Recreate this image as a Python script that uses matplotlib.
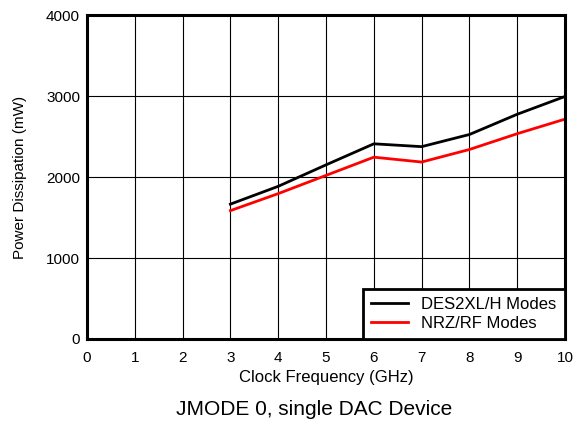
import matplotlib
matplotlib.use('Agg')
import matplotlib.pyplot as plt

plt.rcParams['font.family'] = ['Liberation Sans', 'DejaVu Sans']

# data
freq_ghz = [3, 4, 5, 6, 7, 8, 9, 10]
des2xl_mw = [1665, 1885, 2150, 2410, 2375, 2525, 2775, 2995]
nrz_rf_mw = [1585, 1795, 2020, 2245, 2185, 2340, 2535, 2715]

fig = plt.figure(figsize=(5.76, 4.24), dpi=100)
ax = fig.add_axes([0.151, 0.2005, 0.830, 0.764])

ax.plot(freq_ghz, des2xl_mw, color='black', linewidth=2, label='DES2XL/H Modes')
ax.plot(freq_ghz, nrz_rf_mw, color='#ff0000', linewidth=2, label='NRZ/RF Modes')

ax.set_xlim(0, 10)
ax.set_ylim(0, 4000)
ax.set_xticks(range(0, 11))
ax.set_yticks([0, 1000, 2000, 3000, 4000])
ax.grid(True, color='black', linewidth=0.8)
ax.tick_params(length=0, labelsize=11)
ax.tick_params(axis='x', pad=9)
ax.tick_params(axis='y', pad=5)
for s in ax.spines.values():
    s.set_linewidth(2.2)

ax.set_xlabel('Clock Frequency (GHz)', fontsize=12, labelpad=3)
ax.set_ylabel('Power Dissipation (mW)', fontsize=11, labelpad=14)

leg = ax.legend(loc='lower right', fontsize=12, fancybox=False, framealpha=1,
                borderaxespad=0, handlelength=2.2, borderpad=0.5,
                labelspacing=0.2, handletextpad=0.8)
leg.get_frame().set_edgecolor('black')
leg.get_frame().set_linewidth(2)

fig.text(0.545, 0.022, 'JMODE 0, single DAC Device', ha='center', fontsize=15)

fig.savefig('out.png', dpi=100)
